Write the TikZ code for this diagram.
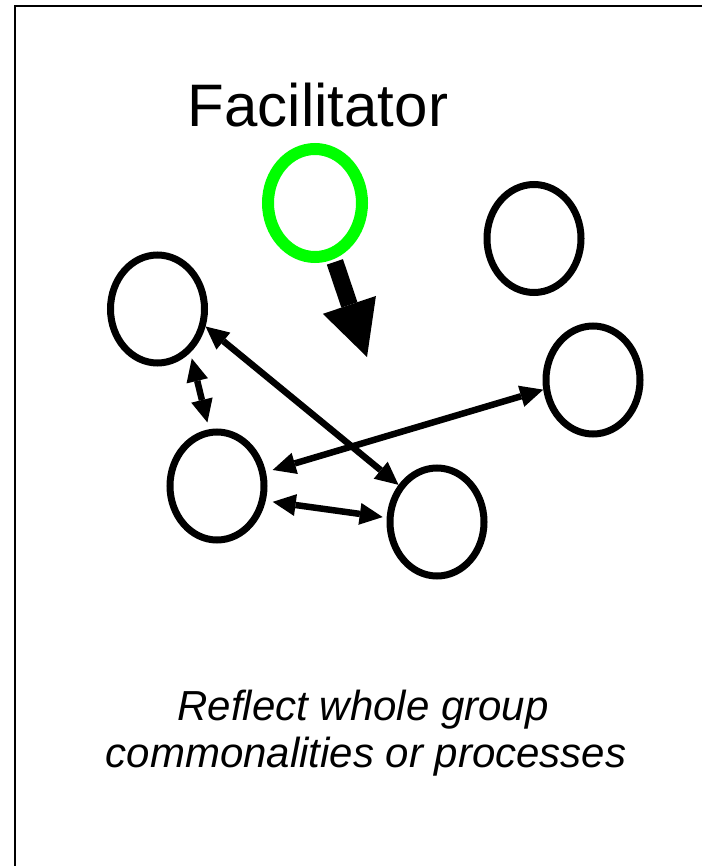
\documentclass[tikz,border=0pt]{standalone}
\usepackage{fontspec}
\setmainfont{Liberation Sans}
\usetikzlibrary{arrows.meta,shapes.geometric}
\definecolor{facgreen}{RGB}{0,255,0}
\begin{document}
\begin{tikzpicture}[x=1pt,y=-1pt,
  member/.style={draw=black,line width=7pt,ellipse,minimum width=94pt,minimum height=108pt,inner sep=0pt},
  leader/.style={member,draw=facgreen,line width=12pt},
  link/.style={line width=6.5pt,
    {Triangle[length=23pt,width=22pt,line width=0pt]}-{Triangle[length=23pt,width=22pt,line width=0pt]}},
  push/.style={line width=17pt,-{Triangle[length=55pt,width=56pt,line width=0pt]}},
  titlefont/.style={font=\fontsize{60}{72}\selectfont},
  caption/.style={font=\fontsize{42}{47}\selectfont\itshape},
]
\useasboundingbox (0,0) rectangle (702,866);

% frame (left and top edges)
\draw[line width=2pt] (15,866) -- (15,6) -- (702,6);

% heading
\node[titlefont, anchor=base, inner sep=0pt] (title) at (318,127) {Facilitator};

% facilitator and group members
\node[leader] (G)  at (315,203) {};
\node[member] (TL) at (157.5,309) {};
\node[member] (TR) at (534,238.5) {};
\node[member] (ML) at (217,486) {};
\node[member] (R)  at (593,380) {};
\node[member] (B)  at (437,522) {};

% facilitator's intervention
\coordinate (focus) at (367,357);
\draw[push, shorten <=3pt] (G) -- (focus);

% exchanges between members
\draw[link] (TL.-20) -- (B.136.5);
\draw[link, shorten <=6pt, shorten >=7pt] (TL.-53.5) -- (ML.98.3);
\draw[link, shorten <=7pt] (ML.16.2) -- (R.191.3);
\draw[link, shorten <=7pt, shorten >=4pt] (ML.-17.4) -- (B.175);

% caption
\node[caption, anchor=base, inner sep=0pt] (cap1) at (363,720) {Reflect whole group};
\node[caption, anchor=base, inner sep=0pt] (cap2) at (366,767) {commonalities or processes};
\end{tikzpicture}
\end{document}
